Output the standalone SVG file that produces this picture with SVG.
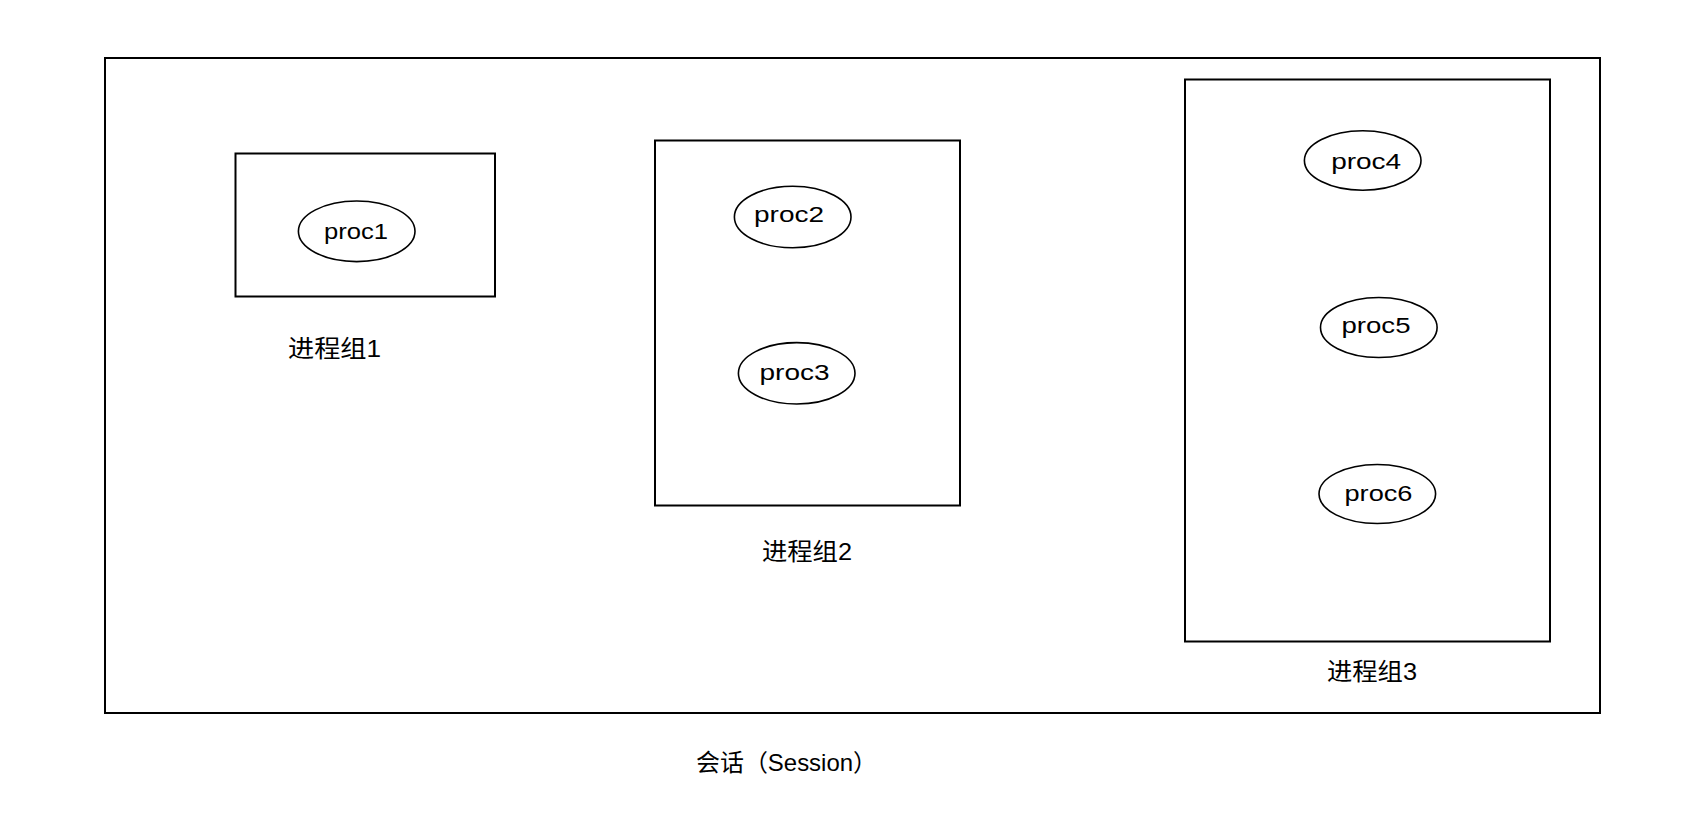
<svg xmlns="http://www.w3.org/2000/svg" width="1694" height="830" viewBox="0 0 1694 830">
<style>
.box{fill:none;stroke:#000;stroke-width:2}
.proc{fill:#fff;stroke:#000;stroke-width:1.6}
.pt{font-family:"Liberation Sans","Noto Sans CJK SC",sans-serif;font-size:22px;fill:#000;text-anchor:middle}
.lb{font-family:"Liberation Sans","Noto Sans CJK SC",sans-serif;font-size:24px;fill:#000}
</style>
<rect width="1694" height="830" fill="#fff"/>
<g id="session">
<rect class="box" x="105" y="58" width="1495" height="655"/>
<text class="lb" x="696" y="771" textLength="181" lengthAdjust="spacingAndGlyphs">会话（Session）</text>
</g>
<g id="group1">
<rect class="box" x="235.5" y="153.5" width="259.5" height="143"/>
<text class="lb" x="288" y="356.5" textLength="93" lengthAdjust="spacingAndGlyphs">进程组1</text>
</g>
<g id="group2">
<rect class="box" x="655" y="140.5" width="305" height="365"/>
<text class="lb" x="762" y="560" textLength="90" lengthAdjust="spacingAndGlyphs">进程组2</text>
</g>
<g id="group3">
<rect class="box" x="1185" y="79.5" width="365" height="562"/>
<text class="lb" x="1327" y="679.5" textLength="90" lengthAdjust="spacingAndGlyphs">进程组3</text>
</g>
<g id="proc1">
<ellipse class="proc" cx="356.7" cy="231.3" rx="58.3" ry="30.3"/>
<text class="pt" x="356" y="239" textLength="64" lengthAdjust="spacingAndGlyphs">proc1</text>
</g>
<g id="proc2">
<ellipse class="proc" cx="792.7" cy="217" rx="58.3" ry="30.8"/>
<text class="pt" x="789" y="222" textLength="70" lengthAdjust="spacingAndGlyphs">proc2</text>
</g>
<g id="proc3">
<ellipse class="proc" cx="796.7" cy="373.3" rx="58.3" ry="30.7"/>
<text class="pt" x="794.5" y="379.5" textLength="70" lengthAdjust="spacingAndGlyphs">proc3</text>
</g>
<g id="proc4">
<ellipse class="proc" cx="1362.7" cy="160.5" rx="58.3" ry="29.8"/>
<text class="pt" x="1366.2" y="168.5" textLength="70" lengthAdjust="spacingAndGlyphs">proc4</text>
</g>
<g id="proc5">
<ellipse class="proc" cx="1378.8" cy="327.5" rx="58.3" ry="30"/>
<text class="pt" x="1376" y="332.5" textLength="69" lengthAdjust="spacingAndGlyphs">proc5</text>
</g>
<g id="proc6">
<ellipse class="proc" cx="1377.3" cy="494" rx="58.3" ry="29.5"/>
<text class="pt" x="1378.5" y="501" textLength="68" lengthAdjust="spacingAndGlyphs">proc6</text>
</g>
<g id="connectors"></g>
</svg>
